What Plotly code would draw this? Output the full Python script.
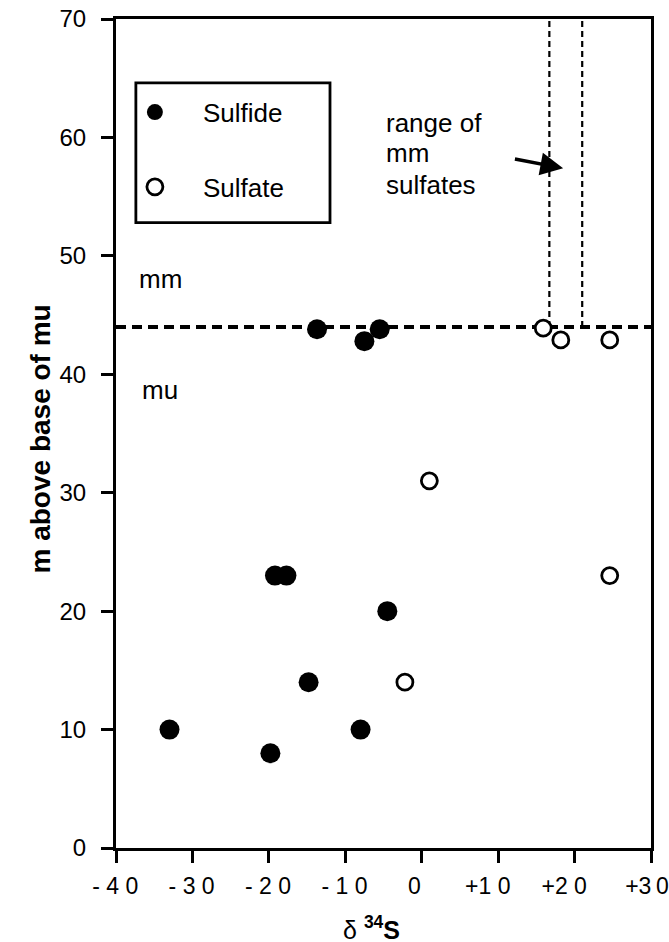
import plotly.graph_objects as go

# Data
sulfide_x = [-33.0, -19.8, -8.0, -14.8, -4.5, -19.2, -17.7, -13.7, -7.5, -5.5]
sulfide_y = [10.0, 8.0, 10.0, 14.0, 20.0, 23.0, 23.0, 43.8, 42.8, 43.8]

sulfate_x = [15.9, 18.2, 24.6, 1.0, -2.2, 24.6]
sulfate_y = [43.9, 42.9, 42.9, 31.0, 14.0, 23.0]

boundary_mm_mu = 44.0
mm_sulfate_range = [16.7, 21.0]

NB = "\u00a0"
TH = "\u2009"
x_tickvals = [-40, -30, -20, -10, 0, 10, 20, 30]
x_ticktext = [NB + "-" + NB + "4" + NB + "0", NB + "-" + NB + "3" + NB + "0",
              NB + "-" + NB + "2" + NB + "0", NB + "-" + NB + "1" + NB + "0",
              "0" + NB, "+1" + NB + "0" + NB + NB, "+2" + NB + "0" + NB + NB,
              "+3" + TH + "0"]
y_tickvals = [0, 10, 20, 30, 40, 50, 60, 70]

FONT = "Liberation Sans, Arial, sans-serif"

fig = go.Figure()

fig.add_trace(go.Scatter(
    x=sulfide_x, y=sulfide_y, mode="markers", name="Sulfide",
    legendgroup="a",
    marker=dict(symbol="circle", size=20, color="black", line=dict(width=0)),
))
fig.add_trace(go.Scatter(
    x=sulfate_x, y=sulfate_y, mode="markers", name="Sulfate",
    legendgroup="b",
    marker=dict(symbol="circle", size=16, color="white", line=dict(width=2.8, color="black")),
))

shapes = [
    # mm / mu boundary
    dict(type="line", xref="x", yref="y", x0=-40, x1=30, y0=boundary_mm_mu, y1=boundary_mm_mu,
         line=dict(color="black", width=4, dash="10px,6px"), layer="below"),
    # range of mm sulfates
    dict(type="line", xref="x", yref="y", x0=mm_sulfate_range[0], x1=mm_sulfate_range[0],
         y0=boundary_mm_mu, y1=70, line=dict(color="black", width=2.2, dash="6px,4px"), layer="below"),
    dict(type="line", xref="x", yref="y", x0=mm_sulfate_range[1], x1=mm_sulfate_range[1],
         y0=boundary_mm_mu, y1=70, line=dict(color="black", width=2.2, dash="6px,4px"), layer="below"),
    # legend box
    dict(type="rect", xref="x", yref="y", x0=-37.4, x1=-12.0, y0=52.8, y1=64.6,
         line=dict(color="black", width=2.8), fillcolor="rgba(0,0,0,0)"),
]

tf = dict(family=FONT, size=26, color="black")
annotations = [
    dict(x=-5.0, y=61.1, xref="x", yref="y", text="range of", showarrow=False,
         xanchor="left", yanchor="middle", yshift=1, font=tf),
    dict(x=-5.0, y=58.6, xref="x", yref="y", text="mm", showarrow=False,
         xanchor="left", yanchor="middle", yshift=1, font=tf),
    dict(x=-5.0, y=55.9, xref="x", yref="y", text="sulfates", showarrow=False,
         xanchor="left", yanchor="middle", yshift=1, font=tf),
    dict(x=-37.2, y=48.0, xref="x", yref="y", text="mm", showarrow=False,
         xanchor="left", yanchor="middle", yshift=1, font=tf),
    dict(x=-36.8, y=38.6, xref="x", yref="y", text="mu", showarrow=False,
         xanchor="left", yanchor="middle", yshift=1, font=tf),
    # arrow
    dict(x=18.5, y=57.4, xref="x", yref="y", ax=12.0, ay=58.2, axref="x", ayref="y",
         text="", showarrow=True, arrowhead=2, arrowsize=1.3, arrowwidth=3.5,
         arrowcolor="black", standoff=0),
    # axis titles
    dict(x=0, y=0.5, xref="paper", yref="paper",
         text="<b>m above base of mu</b>",
         textangle=-90, showarrow=False, xanchor="center", yanchor="middle",
         xshift=-76, yshift=-6, font=dict(family=FONT, size=28, color="black")),
    dict(x=0.5, y=0, xref="paper", yref="paper",
         text="\u03b4 <sup><b>34</b></sup><b>S</b>", showarrow=False,
         xanchor="center", yanchor="middle", yshift=-80, xshift=-12,
         font=dict(family=FONT, size=25, color="black")),
]

fig.update_layout(
    width=669, height=942,
    margin=dict(l=116, r=18, t=19, b=94, autoexpand=False),
    paper_bgcolor="white", plot_bgcolor="white",
    font=dict(family=FONT, size=23, color="black"),
    shapes=shapes, annotations=annotations,
    showlegend=True,
    legend=dict(x=-0.017, y=0.916, xanchor="left", yanchor="top",
                bgcolor="rgba(0,0,0,0)", borderwidth=0,
                traceorder="grouped", tracegroupgap=38, itemwidth=86,
                font=dict(family=FONT, size=26, color="black")),
)

fig.update_xaxes(
    range=[-40, 30], tickmode="array", tickvals=x_tickvals, ticktext=x_ticktext,
    showgrid=False, zeroline=False, showline=True, linecolor="black", linewidth=3,
    mirror=True, ticks="outside", ticklen=12, tickwidth=3, tickcolor="black",
    ticklabelstandoff=3, ticklabelshift=-4, ticklabeloverflow="allow", automargin=False,
    tickfont=dict(family=FONT, size=23, color="black"),
)
fig.update_yaxes(
    range=[0, 70], tickmode="array", tickvals=y_tickvals,
    showgrid=False, zeroline=False, showline=True, linecolor="black", linewidth=3,
    mirror=True, ticks="outside", ticklen=12, tickwidth=3, tickcolor="black",
    ticklabelstandoff=10, ticklabeloverflow="allow", automargin=False,
    tickfont=dict(family=FONT, size=24, color="black"),
)

fig.write_html(
    "out.html",
    config={"displayModeBar": False},
    post_script="document.body.style.margin='0px';document.body.style.overflow='hidden';",
)
